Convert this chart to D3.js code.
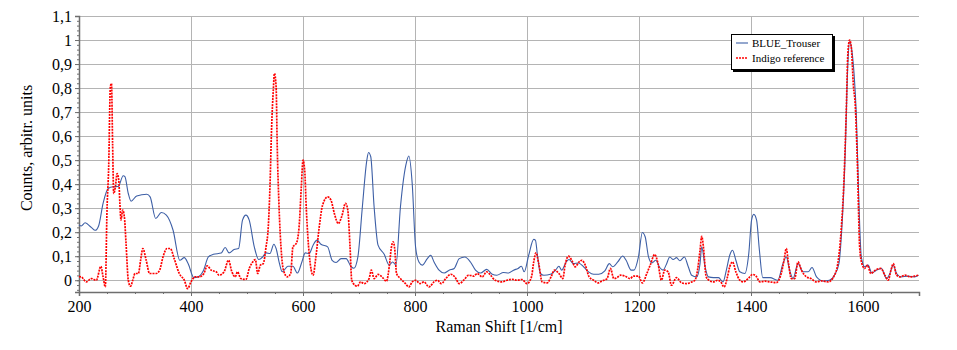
<!DOCTYPE html>
<html>
<head>
<meta charset="utf-8">
<script src="https://cdn.jsdelivr.net/npm/d3@7"></script>
<style>
  body { margin: 0; background: #fff; }
  svg { display: block; font-family: "Liberation Serif", "DejaVu Serif", serif; }
  svg text { font-family: "Liberation Serif", "DejaVu Serif", serif; }
</style>
</head>
<body>
<div id="chart"></div>
<script>
// Data
var blueShift = [200, 204, 211, 222, 229, 235, 243, 252, 261, 270, 279, 282, 288, 293, 303, 321, 327, 337, 347, 356, 368, 380, 388, 395, 405, 413, 422, 431, 440, 454, 461, 468, 477, 485, 492, 498, 504, 513, 521, 528, 534, 541, 548, 552, 558, 563, 573, 582, 590, 598, 604, 611, 618, 625, 632, 644, 652, 659, 668, 677, 686, 691, 698, 706, 714, 717, 721, 727, 734, 745, 754, 760, 766, 774, 785, 789, 795, 801, 807, 813, 822, 828, 834, 843, 852, 861, 870, 879, 889, 899, 908, 917, 928, 938, 946, 958, 967, 976, 984, 990, 995, 1003, 1012, 1015, 1019, 1024, 1030, 1042, 1051, 1057, 1062, 1070, 1075, 1083, 1092, 1101, 1110, 1119, 1128, 1139, 1147, 1153, 1162, 1171, 1177, 1186, 1191, 1199, 1206, 1211, 1217, 1223, 1230, 1237, 1243, 1249, 1255, 1261, 1267, 1273, 1281, 1288, 1294, 1303, 1309, 1312, 1318, 1324, 1333, 1342, 1350, 1356, 1362, 1367, 1373, 1380, 1389, 1396, 1401, 1405, 1410, 1415, 1421, 1434, 1448, 1457, 1463, 1469, 1475, 1484, 1493, 1502, 1509, 1517, 1529, 1540, 1549, 1557, 1562, 1568, 1573, 1576, 1580, 1584, 1588, 1592, 1597, 1603, 1609, 1616, 1624, 1633, 1642, 1648, 1654, 1660, 1668, 1680, 1692, 1699];
var blueCounts = [0.23, 0.226, 0.239, 0.22, 0.208, 0.226, 0.32, 0.382, 0.389, 0.39, 0.435, 0.431, 0.361, 0.329, 0.351, 0.358, 0.347, 0.257, 0.282, 0.271, 0.208, 0.083, 0.094, 0.069, 0.011, 0.014, 0.039, 0.097, 0.108, 0.113, 0.136, 0.114, 0.128, 0.132, 0.25, 0.271, 0.25, 0.139, 0.086, 0.097, 0.114, 0.111, 0.15, 0.132, 0.069, 0.035, 0.058, 0.058, 0.03, 0.076, 0.114, 0.111, 0.146, 0.167, 0.15, 0.139, 0.083, 0.074, 0.09, 0.09, 0.056, 0.05, 0.097, 0.305, 0.5, 0.532, 0.514, 0.305, 0.146, 0.108, 0.063, 0.076, 0.063, 0.305, 0.493, 0.517, 0.403, 0.139, 0.076, 0.063, 0.09, 0.104, 0.076, 0.042, 0.03, 0.042, 0.049, 0.09, 0.097, 0.076, 0.042, 0.03, 0.045, 0.025, 0.021, 0.032, 0.03, 0.042, 0.049, 0.058, 0.035, 0.104, 0.17, 0.167, 0.097, 0.028, 0.021, 0.025, 0.042, 0.058, 0.042, 0.076, 0.086, 0.069, 0.072, 0.056, 0.035, 0.025, 0.025, 0.039, 0.069, 0.056, 0.076, 0.101, 0.083, 0.042, 0.042, 0.097, 0.199, 0.181, 0.097, 0.072, 0.083, 0.053, 0.042, 0.067, 0.097, 0.086, 0.094, 0.081, 0.097, 0.056, 0.021, 0.014, 0.069, 0.139, 0.056, 0.014, 0.011, 0.011, -0.007, 0.042, 0.104, 0.125, 0.083, 0.035, 0.028, 0.111, 0.25, 0.274, 0.25, 0.125, 0.011, 0.011, 0, 0.069, 0.097, 0.042, 0.007, 0.069, 0.035, 0.035, 0.053, 0.014, -0.003, 0, 0.021, 0.069, 0.208, 0.514, 0.903, 0.993, 0.958, 0.861, 0.694, 0.375, 0.097, 0.056, 0.063, 0.03, 0.042, 0.049, 0.007, 0.028, 0.063, 0.028, 0.014, 0.017, 0.014, 0.021];

var indigoShift = [200, 204, 213, 222, 231, 239, 243, 247, 250, 253, 256, 258, 260, 262, 265, 268, 271, 273, 275, 278, 281, 284, 288, 292, 296, 300, 306, 310, 314, 320, 326, 332, 338, 344, 350, 357, 363, 370, 379, 388, 394, 400, 407, 415, 423, 429, 436, 445, 450, 459, 467, 473, 479, 483, 489, 498, 504, 509, 515, 519, 524, 529, 534, 538, 541, 544, 547, 549, 552, 554, 557, 562, 566, 572, 578, 582, 588, 593, 597, 600, 603, 606, 611, 618, 623, 629, 635, 644, 650, 656, 663, 669, 676, 680, 684, 687, 693, 697, 703, 709, 718, 722, 727, 734, 741, 749, 754, 758, 761, 764, 767, 774, 783, 789, 795, 801, 809, 816, 825, 834, 840, 847, 855, 864, 871, 879, 887, 896, 905, 911, 920, 928, 935, 943, 955, 964, 973, 982, 991, 1000, 1008, 1012, 1016, 1021, 1027, 1036, 1043, 1049, 1057, 1064, 1068, 1074, 1080, 1086, 1093, 1098, 1104, 1111, 1119, 1127, 1134, 1143, 1149, 1155, 1161, 1167, 1175, 1184, 1190, 1199, 1206, 1214, 1220, 1228, 1234, 1240, 1246, 1252, 1258, 1267, 1276, 1285, 1294, 1300, 1305, 1309, 1312, 1315, 1320, 1325, 1333, 1340, 1346, 1352, 1358, 1362, 1367, 1373, 1379, 1386, 1395, 1403, 1409, 1416, 1425, 1434, 1445, 1454, 1459, 1463, 1467, 1472, 1478, 1484, 1490, 1499, 1507, 1517, 1526, 1538, 1549, 1555, 1561, 1566, 1570, 1573, 1576, 1579, 1583, 1586, 1590, 1594, 1598, 1603, 1608, 1614, 1622, 1632, 1639, 1645, 1650, 1654, 1660, 1666, 1675, 1684, 1692, 1699];
var indigoCounts = [0.015, 0.014, -0.007, 0.007, 0, 0.058, 0.014, -0.028, 0.292, 0.472, 0.805, 0.819, 0.569, 0.361, 0.389, 0.444, 0.417, 0.32, 0.25, 0.292, 0.264, 0.153, 0, -0.025, 0, 0.028, 0.028, 0.083, 0.132, 0.083, 0.028, 0.028, 0.028, 0.042, 0.097, 0.132, 0.132, 0.09, 0.028, 0, -0.035, -0.007, 0.014, 0.014, 0.028, 0.06, 0.042, 0.035, 0.021, 0.035, 0.083, 0.035, 0.014, 0.035, 0.007, 0.003, 0.049, 0.072, 0.086, 0.028, 0.063, 0.069, 0.139, 0.222, 0.389, 0.639, 0.792, 0.861, 0.805, 0.555, 0.32, 0.097, 0.035, 0.014, 0.028, 0.139, 0.153, 0.222, 0.389, 0.5, 0.458, 0.292, 0.111, 0.021, 0.097, 0.222, 0.313, 0.347, 0.333, 0.278, 0.236, 0.264, 0.32, 0.292, 0.139, 0, -0.021, -0.025, -0.007, -0.014, 0.007, 0.042, 0.007, 0.024, 0.014, -0.004, 0.056, 0.139, 0.16, 0.125, 0.028, 0.007, -0.014, -0.028, -0.007, 0, -0.014, -0.007, -0.028, -0.007, 0, -0.014, 0.007, 0.025, 0.014, -0.014, 0, 0.021, 0.017, 0.028, 0.014, 0.035, 0.021, 0, -0.007, 0, 0.004, 0, 0.003, -0.014, 0.014, 0.076, 0.114, 0.069, -0.007, -0.011, 0.014, 0.042, 0.028, 0.007, 0.063, 0.1, 0.083, 0.056, 0.076, 0.083, 0.063, 0.014, 0, -0.011, -0.003, 0.007, 0.049, 0.007, 0.011, 0.021, 0.017, 0.007, 0.017, 0.017, -0.011, 0.028, 0.063, 0.107, 0.069, 0, 0.042, 0.035, -0.021, 0.011, -0.011, -0.014, -0.007, 0, 0.049, 0.125, 0.183, 0.139, 0.014, 0, -0.007, 0, -0.007, -0.028, 0.014, 0.056, 0.076, 0.035, 0.003, -0.007, 0.007, 0.024, 0.017, -0.007, -0.004, -0.007, -0.01, 0.028, 0.083, 0.132, 0.069, 0.007, 0.007, 0.076, 0.042, 0.014, 0.007, -0.007, -0.003, -0.007, 0.021, 0.069, 0.208, 0.417, 0.694, 0.944, 1.0, 0.972, 0.805, 0.736, 0.486, 0.139, 0.069, 0.049, 0.063, 0.028, 0.042, 0.049, 0.021, 0, 0.042, 0.069, 0.021, 0.014, 0.021, 0.014, 0.017, 0.021];

var seriesNames = ["BLUE_Trouser", "Indigo reference"];
var xTicks = [200, 400, 600, 800, 1000, 1200, 1400, 1600];
var yTicks = [0, 0.1, 0.2, 0.3, 0.4, 0.5, 0.6, 0.7, 0.8, 0.9, 1, 1.1];

var chart_width  = 957;
var chart_height = 350;
var plotLeft = 79, plotRight = 919, plotTop = 16, plotBottom = 292;
var serif = "'Liberation Serif', 'DejaVu Serif', serif";

var x = d3.scaleLinear().domain([200, 1700]).range([plotLeft, plotRight]);
var y = d3.scaleLinear().domain([-0.049, 1.1]).range([plotBottom, plotTop]);

var svg = d3.select("#chart")
    .append("svg")
    .attr("width", chart_width)
    .attr("height", chart_height);

// Grid
svg.append("g")
    .selectAll("line")
    .data(yTicks)
    .enter()
    .append("line")
    .attr("x1", plotLeft).attr("x2", plotRight)
    .attr("y1", d => Math.round(y(d)) + 0.5)
    .attr("y2", d => Math.round(y(d)) + 0.5)
    .attr("stroke", "#b4b4b4");

svg.append("g")
    .selectAll("line")
    .data(xTicks.slice(1))
    .enter()
    .append("line")
    .attr("x1", d => Math.round(x(d)) + 0.5)
    .attr("x2", d => Math.round(x(d)) + 0.5)
    .attr("y1", plotTop).attr("y2", plotBottom)
    .attr("stroke", "#b4b4b4");

// Axes
var fmt = function(d) {
    if (d === 0) return "0";
    if (Math.abs(d - 1) < 1e-9) return "1";
    return d3.format(".1f")(d).replace(".", ",");
};

var yAxis = svg.append("g")
    .attr("transform", "translate(" + plotLeft + ",0)")
    .call(d3.axisLeft(y).tickValues(yTicks).tickFormat(fmt).tickSize(4).tickPadding(3));

var yMinor = svg.append("g")
    .attr("transform", "translate(" + plotLeft + ",0)")
    .call(d3.axisLeft(y).tickValues(d3.range(-0.04, 1.1, 0.02)).tickFormat("").tickSize(2));

var xAxis = svg.append("g")
    .attr("transform", "translate(0," + plotBottom + ")")
    .call(d3.axisBottom(x).tickValues(xTicks).tickFormat(d3.format("d")).tickSize(4).tickPadding(5));

var xMinor = svg.append("g")
    .attr("transform", "translate(0," + plotBottom + ")")
    .call(d3.axisBottom(x).tickValues(d3.range(200, 1701, 50)).tickFormat("").tickSize(2));

[yAxis, yMinor, xAxis, xMinor].forEach(function(g) {
    g.attr("font-family", serif).attr("font-size", 16);
    g.select(".domain").attr("stroke", "#6e6e6e").attr("stroke-width", 1.5);
    g.selectAll(".tick line").attr("stroke", "#6e6e6e");
    g.selectAll("text")
        .attr("fill", "#000")
        .attr("font-family", serif)
        .attr("font-size", 16);
});
xMinor.select(".domain").remove();
yMinor.select(".domain").remove();

// Axis titles
svg.append("text")
    .attr("x", (plotLeft + plotRight) / 2)
    .attr("y", 332)
    .attr("text-anchor", "middle")
    .attr("font-family", serif)
    .attr("font-size", 16)
    .text("Raman Shift [1/cm]");

svg.append("text")
    .attr("transform", "translate(32,148) rotate(-90)")
    .attr("text-anchor", "middle")
    .attr("font-family", serif)
    .attr("font-size", 16)
    .text("Counts, arbitr. units");

// Lines
var line = d3.line()
    .x(d => x(d[0]))
    .y(d => y(d[1]))
    .curve(d3.curveMonotoneX);

var plot = svg.append("g");

plot.append("path")
    .datum(d3.zip(blueShift, blueCounts))
    .attr("fill", "none")
    .attr("stroke", "#3d5fa6")
    .attr("stroke-width", 1.1)
    .attr("d", line);

plot.append("path")
    .datum(d3.zip(indigoShift, indigoCounts))
    .attr("fill", "none")
    .attr("stroke", "#ff0000")
    .attr("stroke-width", 1.7)
    .attr("stroke-dasharray", "2,1")
    .attr("d", line);

// Legend
var legend = svg.append("g").attr("transform", "translate(731,34)");
legend.append("rect")
    .attr("x", 2).attr("y", 2)
    .attr("width", 102).attr("height", 36)
    .attr("fill", "#000");
legend.append("rect")
    .attr("x", 0.5).attr("y", 0.5)
    .attr("width", 101).attr("height", 35)
    .attr("fill", "#fff")
    .attr("stroke", "#000");

var styles = [
    { color: "#3d5fa6", width: 1.1, dash: null },
    { color: "#ff0000", width: 1.7, dash: "2,1" }
];
seriesNames.forEach(function(name, i) {
    var yy = 9 + i * 15;
    legend.append("line")
        .attr("x1", 5).attr("x2", 17)
        .attr("y1", yy).attr("y2", yy)
        .attr("stroke", styles[i].color)
        .attr("stroke-width", styles[i].width)
        .attr("stroke-dasharray", styles[i].dash);
    legend.append("text")
        .attr("x", 21).attr("y", yy + 3.5)
        .attr("font-family", serif)
        .attr("font-size", 11)
        .text(name);
});
</script>
</body>
</html>
